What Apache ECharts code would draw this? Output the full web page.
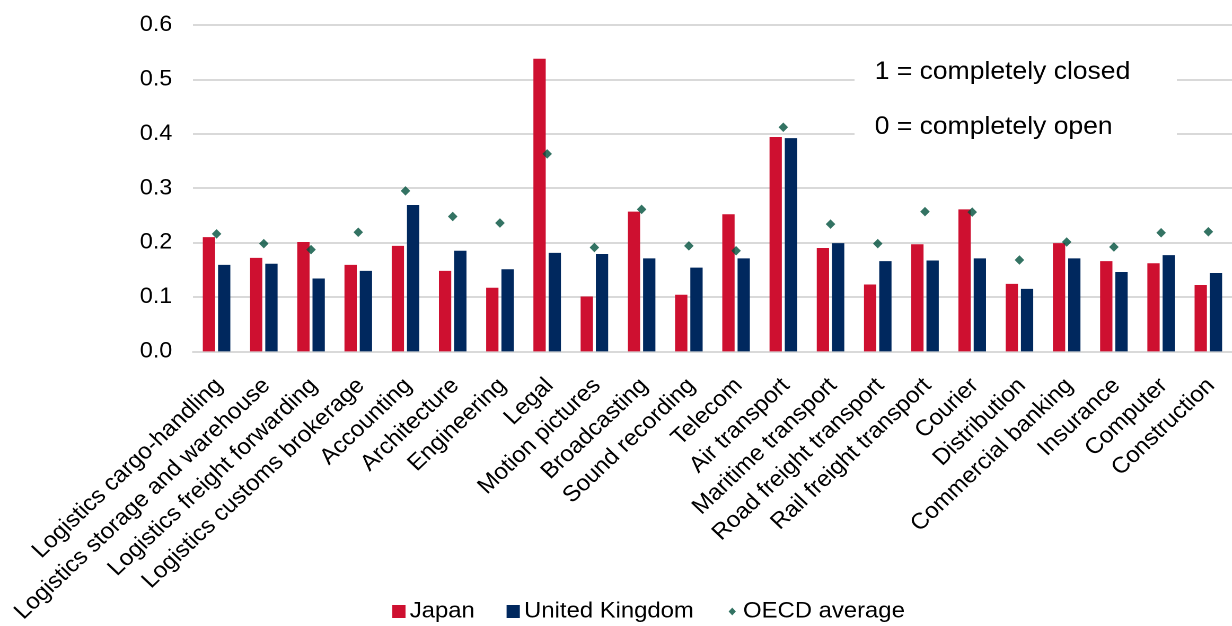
<!DOCTYPE html>
<html>
<head>
<meta charset="utf-8">
<script src="https://cdn.jsdelivr.net/npm/echarts@6/dist/echarts.min.js"></script>
<style>
  html, body { margin: 0; padding: 0; background: #fff; overflow: hidden; }
  #stage { width: 1232px; height: 626px; overflow: hidden; position: relative; }
  /* the chart is laid out slightly narrower and widened to the full page */
  #chart { width: 1162px; height: 626px; transform-origin: 0 0; transform: scaleX(1.0602); }
</style>
</head>
<body>
<div id="stage"><div id="chart"></div></div>
<script>
// Services trade restrictiveness by sector
const categories = [
  'Logistics cargo-handling', 'Logistics storage and warehouse', 'Logistics freight forwarding',
  'Logistics customs brokerage', 'Accounting', 'Architecture', 'Engineering', 'Legal',
  'Motion pictures', 'Broadcasting', 'Sound recording', 'Telecom', 'Air transport',
  'Maritime transport', 'Road freight transport', 'Rail freight transport', 'Courier',
  'Distribution', 'Commercial banking', 'Insurance', 'Computer', 'Construction'
];
const japan = [0.210, 0.172, 0.201, 0.159, 0.194, 0.148, 0.117, 0.538,
  0.101, 0.257, 0.104, 0.252, 0.394, 0.190, 0.123, 0.197, 0.261,
  0.124, 0.199, 0.166, 0.162, 0.122];
const unitedKingdom = [0.159, 0.161, 0.134, 0.148, 0.269, 0.185, 0.151, 0.181,
  0.179, 0.171, 0.154, 0.171, 0.392, 0.199, 0.166, 0.167, 0.171,
  0.115, 0.171, 0.146, 0.177, 0.144];
const oecdAverage = [0.216, 0.198, 0.187, 0.219, 0.295, 0.248, 0.236, 0.363,
  0.191, 0.261, 0.194, 0.185, 0.412, 0.234, 0.198, 0.257, 0.256,
  0.168, 0.201, 0.192, 0.218, 0.220];
const yTicks = { min: 0, max: 0.6, step: 0.1 };
const noteLines = ['1 = completely closed', '0 = completely open'];

const FONT = 'Liberation Sans, Arial, sans-serif';
const chart = echarts.init(document.getElementById('chart'), null, {
  renderer: 'canvas', devicePixelRatio: 2, width: 1162, height: 626
});

chart.setOption({
  animation: false,
  backgroundColor: '#ffffff',
  textStyle: { fontFamily: FONT },
  grid: { left: 182, right: -13, top: 25, bottom: 272, containLabel: false },
  legend: {
    left: 370,
    top: 600,
    padding: 0,
    itemWidth: 12.5,
    itemHeight: 13,
    itemGap: 30,
    textStyle: { fontSize: 22.5, color: '#000', fontFamily: FONT, padding: [0, 0, 0, -1] },
    data: [
      { name: 'Japan', icon: 'rect' },
      { name: 'United Kingdom', icon: 'rect' },
      { name: 'OECD average', icon: 'path://M0,0M12,12M6,2.3L9.3,6L6,9.7L2.7,6Z' }
    ]
  },
  xAxis: {
    type: 'category',
    data: categories,
    axisTick: { show: false },
    axisLine: { show: true, lineStyle: { color: '#d9d9d9', width: 2 } },
    axisLabel: {
      interval: 0,
      rotate: 45,
      margin: 17,
      fontSize: 22.6,
      color: '#000',
      fontFamily: FONT,
      verticalAlign: 'top',
      padding: [0, 8, 0, 0]
    }
  },
  yAxis: {
    type: 'value',
    min: yTicks.min,
    max: yTicks.max,
    interval: yTicks.step,
    axisLine: { show: false },
    axisTick: { show: false },
    axisLabel: {
      margin: 19.5,
      fontSize: 22,
      color: '#000',
      fontFamily: FONT,
      formatter: v => v.toFixed(1)
    },
    splitLine: { lineStyle: { color: '#d9d9d9', width: 2 } }
  },
  series: [
    {
      name: 'Japan',
      type: 'bar',
      data: japan,
      barWidth: 11.6,
      barGap: '24%',
      itemStyle: { color: '#ce1030' }
    },
    {
      name: 'United Kingdom',
      type: 'bar',
      data: unitedKingdom,
      barWidth: 11.6,
      itemStyle: { color: '#00285e' }
    },
    {
      name: 'OECD average',
      type: 'scatter',
      data: oecdAverage,
      symbol: 'diamond',
      symbolSize: [9, 9.5],
      z: 5,
      itemStyle: { color: '#00503c' }
    }
  ],
  graphic: [
    {
      type: 'rect',
      z: 10,
      shape: { x: 806, y: 50, width: 304, height: 100 },
      style: { fill: '#ffffff' }
    },
    {
      type: 'text',
      z: 11,
      x: 825,
      y: 72,
      style: { text: noteLines[0], font: '25px ' + FONT, fill: '#000', textVerticalAlign: 'middle' }
    },
    {
      type: 'text',
      z: 11,
      x: 825,
      y: 127,
      style: { text: noteLines[1], font: '25px ' + FONT, fill: '#000', textVerticalAlign: 'middle' }
    }
  ]
});
</script>
</body>
</html>
